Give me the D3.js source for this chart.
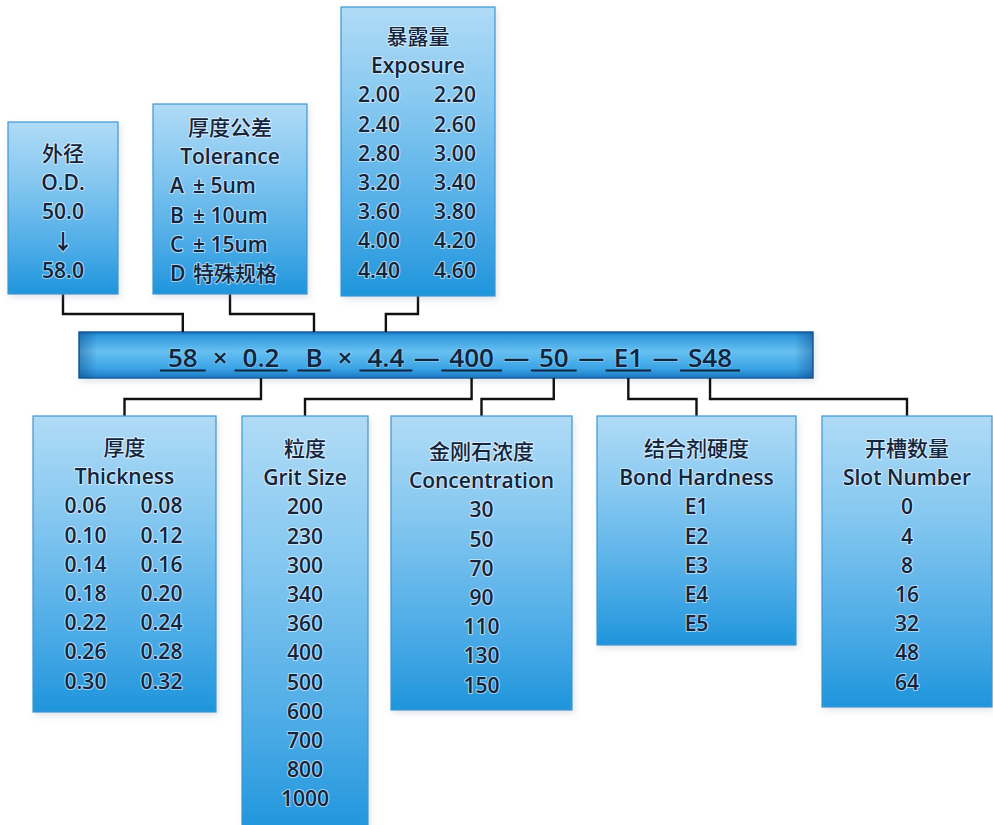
<!DOCTYPE html>
<html>
<head>
<meta charset="utf-8">
<script src="https://cdn.jsdelivr.net/npm/d3@7/dist/d3.min.js"></script>
<style>
  html, body { margin: 0; padding: 0; background: #ffffff; }
  svg { display: block; }
</style>
</head>
<body>
<script>
// ---------------- data ----------------
const codeParts = ["58", "0.2", "B", "4.4", "400", "50", "E1", "S48"];
const codeSeparators = ["×", "", "×", "—", "—", "—", "—"];

const odLines = ["外径", "O.D.", "50.0", "↓", "58.0"];

const toleranceTitle = ["厚度公差", "Tolerance"];
const toleranceCodes = ["A", "B", "C", "D"];
const toleranceValues = ["± 5um", "± 10um", "± 15um", "特殊规格"];

const exposureTitle = ["暴露量", "Exposure"];
const exposureValues = ["2.00", "2.20", "2.40", "2.60", "2.80", "3.00", "3.20", "3.40",
                        "3.60", "3.80", "4.00", "4.20", "4.40", "4.60"];

const thicknessTitle = ["厚度", "Thickness"];
const thicknessValues = ["0.06", "0.08", "0.10", "0.12", "0.14", "0.16", "0.18", "0.20",
                         "0.22", "0.24", "0.26", "0.28", "0.30", "0.32"];

const gritTitle = ["粒度", "Grit Size"];
const gritValues = ["200", "230", "300", "340", "360", "400", "500", "600", "700", "800", "1000"];

const concentrationTitle = ["金刚石浓度", "Concentration"];
const concentrationValues = ["30", "50", "70", "90", "110", "130", "150"];

const bondTitle = ["结合剂硬度", "Bond Hardness"];
const bondValues = ["E1", "E2", "E3", "E4", "E5"];

const slotTitle = ["开槽数量", "Slot Number"];
const slotValues = ["0", "4", "8", "16", "32", "48", "64"];

// ---------------- layout ----------------
const W = 993, H = 825;
const FONT = "'Open Sans','Noto Sans CJK SC',sans-serif";
const PITCH = 29.2;
const bar = { x: 79, y: 332, w: 734, h: 46 };
const topElbowY = 314, bottomElbowY = 399;

const boxes = [
  { side: "top", part: 0, x: 8,   y: 122, w: 110, h: 172, first: 153, kind: "single", title: [], values: odLines },
  { side: "top", part: 2, x: 153, y: 104, w: 154, h: 190, first: 127, kind: "tolerance", title: toleranceTitle, codes: toleranceCodes, values: toleranceValues },
  { side: "top", part: 3, x: 341, y: 7,   w: 154, h: 289, first: 36,  kind: "pairs", title: exposureTitle, values: exposureValues },
  { side: "bottom", part: 1, x: 33,  y: 416, w: 183, h: 296, first: 447, kind: "pairs", title: thicknessTitle, values: thicknessValues },
  { side: "bottom", part: 4, x: 242, y: 416, w: 126, h: 420, first: 448, kind: "single", title: gritTitle, values: gritValues },
  { side: "bottom", part: 5, x: 391, y: 416, w: 181, h: 294, first: 451, kind: "single", title: concentrationTitle, values: concentrationValues },
  { side: "bottom", part: 6, x: 597, y: 416, w: 199, h: 229, first: 448, kind: "single", title: bondTitle, values: bondValues },
  { side: "bottom", part: 7, x: 822, y: 416, w: 170, h: 291, first: 448, kind: "single", title: slotTitle, values: slotValues }
];

const svg = d3.select("body").append("svg").attr("width", W).attr("height", H);
const defs = svg.append("defs");

const boxGrad = defs.append("linearGradient").attr("id", "boxGrad").attr("x1", 0).attr("y1", 0).attr("x2", 0).attr("y2", 1);
[[0, "#b0dbf6"], [0.35, "#84c7f0"], [0.75, "#4aaae6"], [1, "#1f95dc"]].forEach(([o, c]) =>
  boxGrad.append("stop").attr("offset", o).attr("stop-color", c));

const barGrad = defs.append("linearGradient").attr("id", "barGrad").attr("x1", 0).attr("y1", 0).attr("x2", 0).attr("y2", 1);
[[0, "#1c72ba"], [0.08, "#2f98dd"], [0.42, "#66c0f1"], [0.8, "#3aa3e5"], [1, "#1b79c2"]].forEach(([o, c]) =>
  barGrad.append("stop").attr("offset", o).attr("stop-color", c));

const barEdge = defs.append("linearGradient").attr("id", "barEdge").attr("x1", 0).attr("y1", 0).attr("x2", 1).attr("y2", 0);
[[0, "rgba(10,60,120,0.4)"], [0.025, "rgba(10,60,120,0)"], [0.975, "rgba(10,60,120,0)"], [1, "rgba(10,60,120,0.4)"]].forEach(([o, c]) =>
  barEdge.append("stop").attr("offset", o).attr("stop-color", c));

const shadow = defs.append("filter").attr("id", "shadow").attr("x", "-10%").attr("y", "-10%").attr("width", "130%").attr("height", "130%");
shadow.append("feDropShadow").attr("dx", 2).attr("dy", 3).attr("stdDeviation", 3).attr("flood-color", "#8899aa").attr("flood-opacity", 0.25);

const hasCJK = s => /[\u3400-\u9fff]/.test(s);
function styledText(sel, size, str) {
  return sel.attr("font-family", FONT).attr("font-size", size)
    .attr("font-weight", hasCJK(str || "") ? 500 : 600)
    .attr("fill", "#13243d")
    .attr("stroke", "rgba(255,255,255,0.55)").attr("stroke-width", 2.2)
    .attr("paint-order", "stroke").attr("stroke-linejoin", "round")
    .text(str);
}

// ---------------- central code bar ----------------
const gBar = svg.append("g");
gBar.append("rect").attr("x", bar.x).attr("y", bar.y).attr("width", bar.w).attr("height", bar.h)
  .attr("fill", "url(#barGrad)").attr("stroke", "#125fa2").attr("stroke-width", 1.5).attr("filter", "url(#shadow)");
gBar.append("rect").attr("x", bar.x).attr("y", bar.y).attr("width", bar.w).attr("height", bar.h)
  .attr("fill", "url(#barEdge)");

const tokens = [];
codeParts.forEach((p, i) => {
  tokens.push({ text: p, part: i, underline: true });
  if (i < codeSeparators.length) tokens.push({ text: codeSeparators[i], underline: false });
});

const BAR_FONT = 26, UL_PAD = 8;
const gapAround = { "×": 7, "—": 1.5, "": 5 };
const measure = svg.append("text").attr("font-family", FONT).attr("font-size", BAR_FONT).attr("font-weight", 600).attr("visibility", "hidden");
tokens.forEach(t => {
  measure.text(t.text || " ");
  t.tw = t.text ? measure.node().getComputedTextLength() : 0;
  t.w = t.underline ? t.tw + 2 * UL_PAD : t.tw + 2 * gapAround[t.text];
});
measure.remove();
const totalW = d3.sum(tokens, t => t.w);
let cursor = bar.x + bar.w / 2 + 4 - totalW / 2;
tokens.forEach(t => { t.x0 = cursor; t.cx = cursor + t.w / 2; cursor += t.w; });

const baseY = bar.y + 35;
const gTok = gBar.append("g");
tokens.forEach(t => {
  if (!t.text) return;
  styledText(gTok.append("text"), BAR_FONT, t.text)
    .attr("x", t.cx).attr("y", baseY).attr("text-anchor", "middle")
    .attr("fill", "#0f2540").attr("stroke", "rgba(160,215,245,0.5)").attr("stroke-width", 2);
  if (t.underline) {
    gTok.append("line").attr("x1", t.x0).attr("x2", t.x0 + t.w)
      .attr("y1", baseY + 3.5).attr("y2", baseY + 3.5)
      .attr("stroke", "#0f2540").attr("stroke-width", 2);
  }
});
const partX = {};
tokens.filter(t => t.underline).forEach(t => { partX[t.part] = t.cx; });

// ---------------- connectors ----------------
const line = d3.line();
const gConn = svg.append("g").attr("fill", "none").attr("stroke", "#111").attr("stroke-width", 2.4);
boxes.forEach(b => {
  const bx = b.x + b.w / 2, tx = partX[b.part];
  const pts = b.side === "top"
    ? [[bx, b.y + b.h], [bx, topElbowY], [tx, topElbowY], [tx, bar.y]]
    : [[tx, bar.y + bar.h], [tx, bottomElbowY], [bx, bottomElbowY], [bx, b.y]];
  gConn.append("path").attr("d", line(pts)).attr("stroke-linejoin", "miter");
});

// ---------------- boxes ----------------
const FS = 21;
boxes.forEach(b => {
  const g = svg.append("g");
  g.append("rect").attr("x", b.x).attr("y", b.y).attr("width", b.w).attr("height", b.h)
    .attr("fill", "url(#boxGrad)").attr("stroke", "#3d97d2").attr("stroke-width", 1.2)
    .attr("filter", "url(#shadow)");
  const cx = b.x + b.w / 2;
  const lines = [];
  b.title.forEach(t => lines.push({ kind: "center", text: t }));
  if (b.kind === "single") {
    b.values.forEach(v => lines.push({ kind: "center", text: v }));
  } else if (b.kind === "pairs") {
    for (let i = 0; i < b.values.length; i += 2) lines.push({ kind: "pair", a: b.values[i], b: b.values[i + 1] });
  } else if (b.kind === "tolerance") {
    b.codes.forEach((c, i) => lines.push({ kind: "tol", code: c, text: b.values[i] }));
  }
  lines.forEach((l, i) => {
    const y = b.first + i * PITCH + 8;
    if (l.kind === "center") {
      styledText(g.append("text"), FS, l.text).attr("x", cx).attr("y", y).attr("text-anchor", "middle");
    } else if (l.kind === "pair") {
      styledText(g.append("text"), FS, l.a).attr("x", cx - 39).attr("y", y).attr("text-anchor", "middle");
      styledText(g.append("text"), FS, l.b).attr("x", cx + 37).attr("y", y).attr("text-anchor", "middle");
    } else {
      styledText(g.append("text"), FS, l.code).attr("x", b.x + 17).attr("y", y);
      styledText(g.append("text"), FS, l.text).attr("x", b.x + 40).attr("y", y);
    }
  });
});
</script>
</body>
</html>
